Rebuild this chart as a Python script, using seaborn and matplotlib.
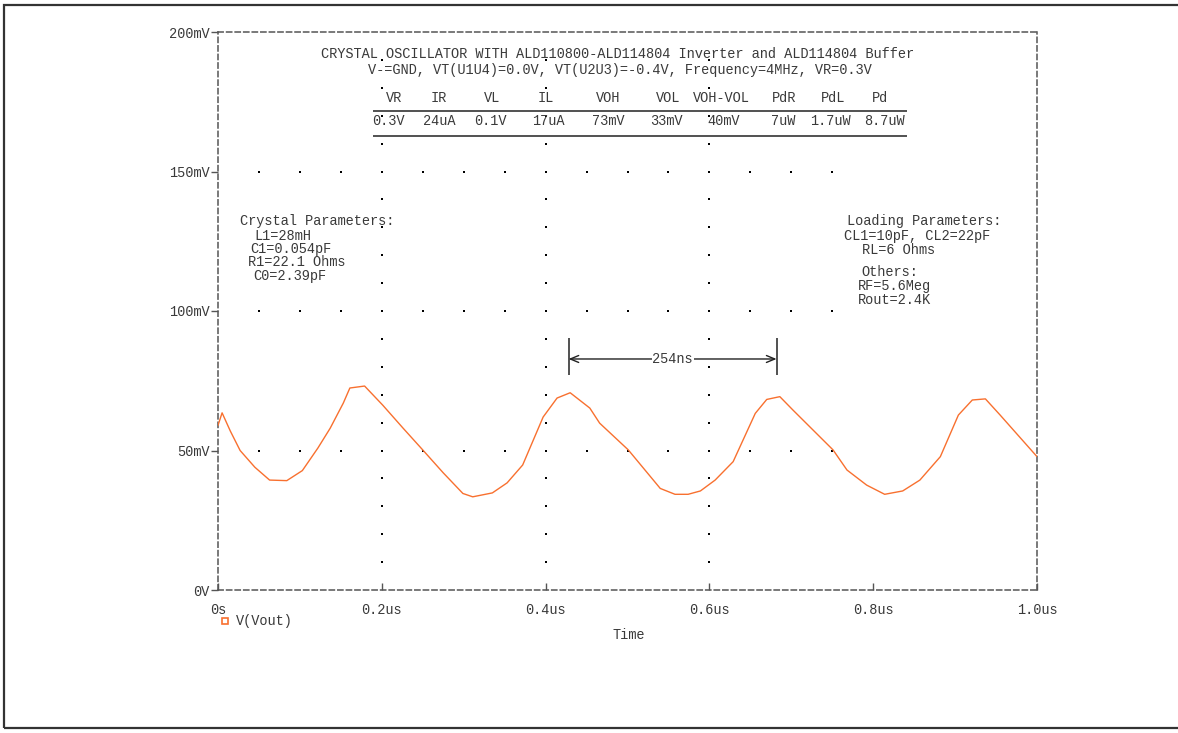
import numpy as np
import pandas as pd
import matplotlib
matplotlib.use("Agg")
import matplotlib.pyplot as plt
from matplotlib.patches import Rectangle
from matplotlib.lines import Line2D
import seaborn as sns

# ---- waveform V(Vout): time in us, voltage in mV ----
time_us = [0.000, 0.005, 0.015, 0.027, 0.045, 0.063, 0.084, 0.103, 0.122, 0.137,
           0.153, 0.161, 0.179, 0.201, 0.226, 0.250, 0.275, 0.299, 0.311, 0.335,
           0.353, 0.372, 0.397, 0.414, 0.430, 0.454, 0.466, 0.501, 0.540, 0.558,
           0.574, 0.589, 0.607, 0.629, 0.656, 0.670, 0.686, 0.702, 0.751, 0.768,
           0.792, 0.814, 0.836, 0.857, 0.882, 0.904, 0.921, 0.937, 0.955, 1.000]
vout_mv = [59.0, 63.5, 57.0, 50.0, 44.0, 39.4, 39.2, 42.8, 50.9, 58.0,
           67.0, 72.4, 73.1, 66.3, 58.0, 50.2, 42.0, 34.6, 33.4, 34.8,
           38.4, 44.8, 62.0, 68.8, 70.7, 65.2, 59.8, 50.2, 36.4, 34.3,
           34.3, 35.5, 39.4, 46.0, 63.3, 68.3, 69.3, 64.5, 50.2, 43.0,
           37.6, 34.3, 35.5, 39.4, 47.8, 62.7, 68.1, 68.5, 62.7, 47.8]

# ---- axis ticks ----
x_ticks = [0.0, 0.2, 0.4, 0.6, 0.8, 1.0]
x_tick_labels = ["0s", "0.2us", "0.4us", "0.6us", "0.8us", "1.0us"]
y_ticks = [0, 50, 100, 150, 200]
y_tick_labels = ["0V", "50mV", "100mV", "150mV", "200mV"]

# ---- header and measurement table ----
title_lines = ["CRYSTAL OSCILLATOR WITH ALD110800-ALD114804 Inverter and ALD114804 Buffer",
               "V-=GND, VT(U1U4)=0.0V, VT(U2U3)=-0.4V, Frequency=4MHz, VR=0.3V"]
table_headers = ["VR", "IR", "VL", "IL", "VOH", "VOL", "VOH-VOL", "PdR", "PdL", "Pd"]
table_values = ["0.3V", "24uA", "0.1V", "17uA", "73mV", "33mV", "40mV", "7uW", "1.7uW", "8.7uW"]

crystal_lines = ["Crystal Parameters:", "L1=28mH", "C1=0.054pF", "R1=22.1 Ohms", "C0=2.39pF"]
loading_lines = ["Loading Parameters:", "CL1=10pF, CL2=22pF", "RL=6 Ohms",
                 "Others:", "RF=5.6Meg", "Rout=2.4K"]

period_start_us = 0.428
period_ns = 254

# ---- layout ----
header_x = [0.215, 0.269, 0.335, 0.400, 0.476, 0.549, 0.615, 0.691, 0.751, 0.808]
value_x = [0.208, 0.270, 0.332, 0.403, 0.477, 0.548, 0.617, 0.690, 0.748, 0.814]
crystal_pos = [(0.027, 132.3), (0.045, 126.9), (0.039, 122.2), (0.037, 117.6), (0.043, 112.5)]
loading_pos = [(0.768, 132.3), (0.764, 126.9), (0.786, 121.9), (0.785, 114.0),
               (0.781, 109.0), (0.781, 103.9)]

TEXT = "#3a3a3a"
FRAME = "#555555"
WAVE = "#F8702F"
FS = 9.8

sns.set_style("white")
plt.rcParams["font.family"] = ["Liberation Mono", "DejaVu Sans Mono"]

W, H = 1178, 733
fig = plt.figure(figsize=(W / 100, H / 100), dpi=100)
ax = fig.add_axes([218 / W, 143 / H, (1037 - 218) / W, (590 - 32) / H])

df = pd.DataFrame({"Time": time_us, "V(Vout)": vout_mv})
sns.lineplot(data=df, x="Time", y="V(Vout)", ax=ax, color=WAVE, lw=1.0,
             legend=False, zorder=3)

ax.set_xlim(0, 1.0)
ax.set_ylim(0, 200)
ax.set_xticks(x_ticks)
ax.set_xticklabels(x_tick_labels)
ax.set_yticks(y_ticks)
ax.set_yticklabels(y_tick_labels)
ax.set_xlabel("")
ax.set_ylabel("")
ax.tick_params(axis="x", bottom=True, top=False, direction="in", length=5, width=1,
               color=FRAME, labelsize=FS, labelcolor=TEXT, pad=9)
ax.tick_params(axis="y", left=True, right=False, direction="out", length=5, width=1,
               color=FRAME, labelsize=FS, labelcolor=TEXT, pad=1)
for side in ["left", "right", "top", "bottom"]:
    sp = ax.spines[side]
    sp.set_visible(True)
    sp.set_color(FRAME)
    sp.set_linewidth(1.1)
    sp.set_linestyle((0, (3.4, 2.2)))

# dotted grid: horizontal rows of dots and vertical columns of dots
gx = np.round(np.arange(0.05, 0.751, 0.05), 3)
for lvl in [50, 100, 150]:
    ax.plot(gx, np.full_like(gx, lvl), ls="none", marker="s", ms=1.5, mew=0,
            color="black", zorder=2)
gy = np.arange(10, 191, 10)
for tv in [0.2, 0.4, 0.6]:
    ax.plot(np.full_like(gy, tv, dtype=float), gy, ls="none", marker="s", ms=1.5,
            mew=0, color="black", zorder=2)

# title block
ax.text(0.488, 192.1, title_lines[0], ha="center", va="center", fontsize=FS, color=TEXT)
ax.text(0.491, 186.4, title_lines[1], ha="center", va="center", fontsize=FS, color=TEXT)

# measurement table
for hx, h in zip(header_x, table_headers):
    ax.text(hx, 176.3, h, ha="center", va="center", fontsize=FS, color=TEXT)
for vx, v in zip(value_x, table_values):
    ax.text(vx, 168.1, v, ha="center", va="center", fontsize=FS, color=TEXT)
ax.hlines([171.7, 162.7], 0.189, 0.841, color="#222222", lw=1.1, zorder=2)

# parameter blocks
for (px, py), s in zip(crystal_pos, crystal_lines):
    ax.text(px, py, s, ha="left", va="center", fontsize=FS, color=TEXT)
for (px, py), s in zip(loading_pos, loading_lines):
    ax.text(px, py, s, ha="left", va="center", fontsize=FS, color=TEXT)

# period measurement
t_end = period_start_us + period_ns / 1000.0
ax.vlines([period_start_us, t_end], 77.0, 90.3, color="#222222", lw=1.1, zorder=4)
ax.annotate("", xy=(period_start_us, 82.8), xytext=(t_end, 82.8),
            arrowprops=dict(arrowstyle="<->,head_length=0.6,head_width=0.25",
                            color="#222222", lw=1.0, shrinkA=0, shrinkB=0), zorder=4)
ax.text((period_start_us + t_end) / 2, 82.8, f"{period_ns}ns", ha="center", va="center",
        fontsize=FS, color=TEXT, zorder=5,
        bbox=dict(facecolor="white", edgecolor="none", pad=0.5))

# legend entry and x-axis label
ax.add_line(Line2D([0.0085], [-0.0556], transform=ax.transAxes, ls="none", marker="s",
                   ms=5, mfc="white", mec=WAVE, mew=1.2, clip_on=False))
ax.text(0.022, -0.0556, "V(Vout)", transform=ax.transAxes, ha="left", va="center",
        fontsize=FS, color=TEXT)
ax.text(0.502, -0.0806, "Time", transform=ax.transAxes, ha="center", va="center",
        fontsize=FS, color=TEXT)

# outer page frame
fig.patches.append(Rectangle((3.5 / W, (H - 728) / H), 1.02, (728 - 5) / H,
                             transform=fig.transFigure, fill=False,
                             edgecolor="#333333", lw=1.6))

fig.savefig("out.png", dpi=100)
